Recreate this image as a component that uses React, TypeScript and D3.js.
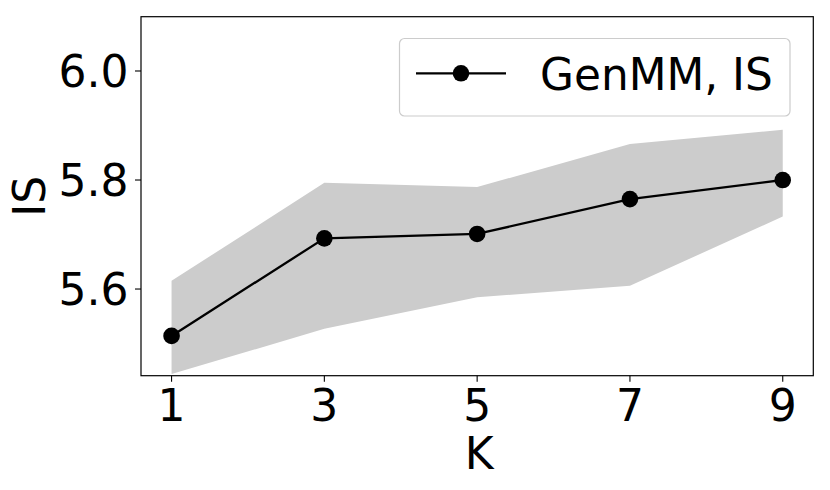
import React from "react";
import * as d3 from "d3";

const kValues = [1, 3, 5, 7, 9];
const isMean = [5.514, 5.693, 5.701, 5.765, 5.8];
const isUpper = [5.615, 5.795, 5.787, 5.866, 5.892];
const isLower = [5.444, 5.527, 5.585, 5.606, 5.733];
const yTicks = [5.6, 5.8, 6.0];
const seriesLabel = "GenMM, IS";

const W = 830;
const H = 490;
const M = { left: 141, right: 813.3, top: 16.7, bottom: 375.7 };
const FONT = "'DejaVu Sans', sans-serif";

export default function App() {
  const x = d3.scaleLinear().domain([0.6, 9.4]).range([M.left, M.right]);
  const y = d3.scaleLinear().domain([5.441, 6.0996]).range([M.bottom, M.top]);

  const data = kValues.map((k, i) => ({ k, m: isMean[i], lo: isLower[i], hi: isUpper[i] }));
  const area = d3
    .area<(typeof data)[0]>()
    .x((d) => x(d.k))
    .y0((d) => y(d.lo))
    .y1((d) => y(d.hi));
  const line = d3
    .line<(typeof data)[0]>()
    .x((d) => x(d.k))
    .y((d) => y(d.m));

  return (
    <svg width={W} height={H} style={{ position: "absolute", left: 0, top: 0, background: "#fff" }}>
      <rect x={0} y={0} width={W} height={H} fill="#fff" />
      <path d={area(data) || ""} fill="#cccccc" stroke="none" />
      <path d={line(data) || ""} fill="none" stroke="#000" strokeWidth={2.3} />
      {data.map((d, i) => (
        <circle key={i} cx={x(d.k)} cy={y(d.m)} r={8.3} fill="#000" />
      ))}
      <rect
        x={M.left}
        y={M.top}
        width={M.right - M.left}
        height={M.bottom - M.top}
        fill="none"
        stroke="#000"
        strokeWidth={1.2}
      />
      {kValues.map((k) => (
        <g key={k}>
          <line x1={x(k)} x2={x(k)} y1={M.bottom} y2={M.bottom + 6} stroke="#000" strokeWidth={1.1} />
          <text
            x={x(k)}
            y={420.5}
            textAnchor="middle"
            fontFamily={FONT}
            fontSize={44}
            fill="#000"
          >
            {k}
          </text>
        </g>
      ))}
      {yTicks.map((t) => (
        <g key={t}>
          <line x1={M.left - 6} x2={M.left} y1={y(t)} y2={y(t)} stroke="#000" strokeWidth={1.1} />
          <text
            x={128.5}
            y={y(t)}
            dy="0.36em"
            textAnchor="end"
            fontFamily={FONT}
            fontSize={44}
            fill="#000"
          >
            {t.toFixed(1)}
          </text>
        </g>
      ))}
      <text x={(M.left + M.right) / 2 + 2} y={469} textAnchor="middle" fontFamily={FONT} fontSize={44} fill="#000">
        K
      </text>
      <text
        transform={`translate(45, ${(M.top + M.bottom) / 2}) rotate(-90)`}
        textAnchor="middle"
        fontFamily={FONT}
        fontSize={44}
        fill="#000"
      >
        IS
      </text>
      <g>
        <rect
          x={399.5}
          y={38.5}
          width={390.5}
          height={77.5}
          rx={5}
          ry={5}
          fill="#fff"
          fillOpacity={0.8}
          stroke="#cccccc"
          strokeWidth={1.2}
        />
        <line x1={416} x2={506} y1={73.3} y2={73.3} stroke="#000" strokeWidth={2.3} />
        <circle cx={461} cy={73.3} r={8.3} fill="#000" />
        <text x={540} y={90} fontFamily={FONT} fontSize={43.8} fill="#000">
          {seriesLabel}
        </text>
      </g>
    </svg>
  );
}
